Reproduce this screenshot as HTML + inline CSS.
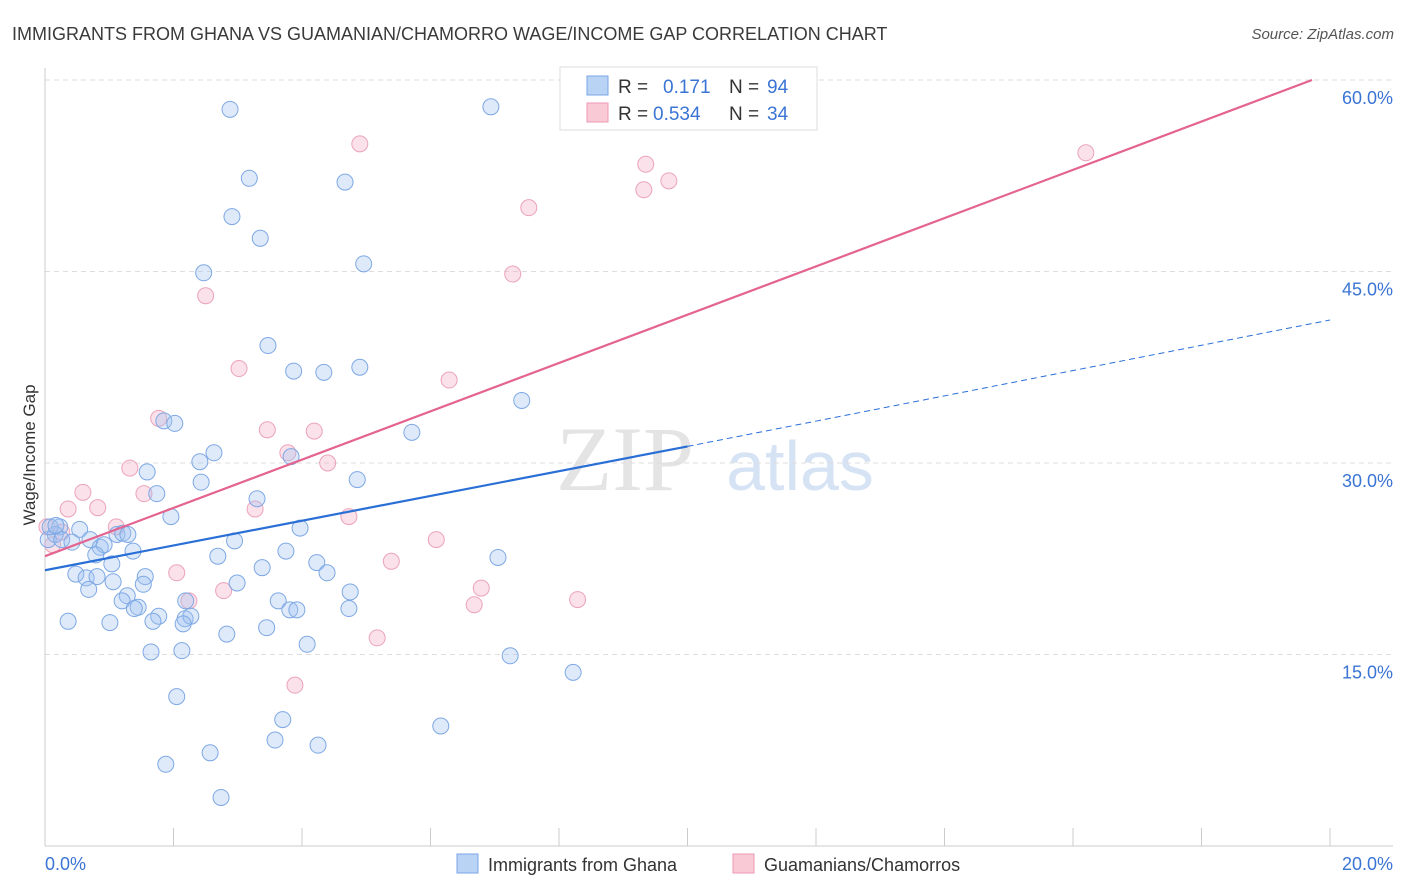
<!DOCTYPE html>
<html><head><meta charset="utf-8"><style>
body{margin:0;background:#fff;font-family:"Liberation Sans",sans-serif;}
svg{display:block}
</style></head><body>
<svg id="chart" width="1406" height="892" xmlns="http://www.w3.org/2000/svg">
<text x="12" y="40" font-size="18" fill="#3a3a3a">IMMIGRANTS FROM GHANA VS GUAMANIAN/CHAMORRO WAGE/INCOME GAP CORRELATION CHART</text>
<text x="1394" y="39" font-size="15" fill="#555" font-style="italic" text-anchor="end">Source: ZipAtlas.com</text>
<text x="35" y="455" font-size="17" fill="#333" text-anchor="middle" transform="rotate(-90 35 455)">Wage/Income Gap</text>
<g>
<text x="625" y="490" font-size="92" fill="#e4e4e4" font-family="Liberation Serif,serif" text-anchor="middle">ZIP</text>
<text x="800" y="490" font-size="70" fill="#d6e3f5" text-anchor="middle">atlas</text>
</g>
<g id="grid"></g>
<g id="axes"></g>
<g id="pts"></g>
<g id="lines"></g>
<g>
<rect x="560" y="67" width="257" height="63" fill="#fff" stroke="#ddd"/>
<rect x="587" y="76" width="21" height="19" fill="#b9d3f5" stroke="#7aa6e6"/>
<rect x="587" y="103" width="21" height="19" fill="#f9c9d6" stroke="#eb99b2"/>
<text x="618" y="93" font-size="19" fill="#333">R =</text>
<text x="663" y="93" font-size="19" fill="#3a74d4">0.171</text>
<text x="729" y="93" font-size="19" fill="#333">N =</text>
<text x="767" y="93" font-size="19" fill="#3a74d4">94</text>
<text x="618" y="120" font-size="19" fill="#333">R =</text>
<text x="653" y="120" font-size="19" fill="#3a74d4">0.534</text>
<text x="729" y="120" font-size="19" fill="#333">N =</text>
<text x="767" y="120" font-size="19" fill="#3a74d4">34</text>
</g>
<g>
<rect x="457" y="854" width="21" height="19" fill="#b9d3f5" stroke="#7aa6e6"/>
<text x="488" y="871" font-size="18" fill="#333">Immigrants from Ghana</text>
<rect x="733" y="854" width="21" height="19" fill="#f9c9d6" stroke="#eb99b2"/>
<text x="764" y="871" font-size="18" fill="#333">Guamanians/Chamorros</text>
</g>
</svg>
<script>
const yTicks=[15,30,45,60];
const xTickLabels=["0.0%","20.0%"];
const bluePts=[[2.88,57.7],[6.94,57.9],[3.18,52.3],[4.67,52.0],[2.91,49.3],[3.35,47.6],[4.96,45.6],[2.47,44.9],[3.47,39.2],[3.87,37.2],[4.34,37.1],[4.90,37.5],[7.42,34.9],[1.85,33.3],[2.02,33.1],[5.71,32.4],[3.83,30.5],[2.63,30.8],[2.41,30.1],[1.59,29.3],[4.86,28.7],[2.43,28.5],[1.74,27.6],[3.30,27.2],[1.96,25.8],[3.97,24.9],[0.23,25.0],[0.54,24.8],[0.16,24.4],[0.05,24.0],[0.26,24.0],[0.42,23.8],[0.70,24.0],[0.86,23.4],[0.92,23.6],[1.12,24.4],[1.21,24.5],[1.29,24.4],[1.37,23.1],[0.79,22.8],[2.95,23.9],[2.69,22.7],[3.75,23.1],[4.23,22.2],[3.38,21.8],[7.05,22.6],[0.48,21.3],[0.64,21.0],[0.81,21.1],[1.56,21.1],[1.06,20.7],[0.68,20.1],[1.53,20.5],[2.99,20.6],[4.39,21.4],[4.75,19.9],[1.28,19.6],[1.20,19.2],[1.45,18.7],[1.39,18.6],[3.63,19.2],[3.81,18.5],[3.92,18.5],[4.73,18.6],[1.77,18.0],[1.68,17.6],[2.18,17.8],[2.27,18.0],[2.15,17.4],[0.36,17.6],[1.01,17.5],[2.83,16.6],[3.45,17.1],[4.08,15.8],[1.65,15.2],[2.13,15.3],[7.24,14.9],[8.22,13.6],[2.05,11.7],[3.70,9.9],[6.16,9.4],[2.57,7.3],[3.58,8.3],[4.25,7.9],[1.88,6.4],[2.74,3.8],[0.08,25.0],[0.17,25.1],[1.04,22.1],[2.19,19.2]];
const pinkPts=[[4.90,55.0],[9.35,53.4],[9.71,52.1],[9.32,51.4],[7.53,50.0],[16.20,54.3],[7.28,44.8],[2.50,43.1],[3.02,37.4],[6.29,36.5],[1.77,33.5],[3.46,32.6],[4.19,32.5],[3.78,30.8],[4.40,30.0],[1.32,29.6],[0.59,27.7],[1.54,27.6],[0.36,26.4],[0.82,26.5],[3.27,26.4],[4.73,25.8],[1.11,25.0],[0.26,24.6],[0.03,25.0],[0.12,23.6],[6.09,24.0],[5.39,22.3],[2.05,21.4],[6.79,20.2],[2.78,20.0],[2.24,19.2],[6.68,18.9],[8.29,19.3],[5.17,16.3],[3.89,12.6]];
const blueLine=[[0,21.6],[10,31.3],[20,41.2]];
const pinkLine=[[0,22.7],[19.72,60.0]];
const X=v=>45+v/20*1285, Y=v=>846-v/60*766;
const NS="http://www.w3.org/2000/svg";
function mk(t,a,p){const e=document.createElementNS(NS,t);for(const k in a)e.setAttribute(k,a[k]);p.appendChild(e);return e;}
const grid=document.getElementById('grid'),axes=document.getElementById('axes'),pts=document.getElementById('pts'),lines=document.getElementById('lines');
yTicks.forEach(t=>{
 const g=mk('line',{x1:45,x2:1393,y1:Y(t),y2:Y(t),stroke:'#ddd','stroke-dasharray':'5,4'},grid);
 
 
 const l=mk('text',{x:1393,y:Y(t)+24,'font-size':18,fill:'#3a74d4','text-anchor':'end'},axes);
 l.textContent=t.toFixed(1)+'%';
 
 
});
mk('line',{x1:45,x2:45,y1:68,y2:846,stroke:'#ccc'},axes);
mk('line',{x1:45,x2:1393,y1:846,y2:846,stroke:'#ccc'},axes);
for(let i=0;i<=10;i++){mk('line',{x1:X(i*2),x2:X(i*2),y1:828,y2:846,stroke:'#ccc'},axes);}
xTickLabels.forEach((s,i)=>{const t=mk('text',{x:i?1393:45,y:870,'font-size':18,fill:'#3a74d4','text-anchor':i?'end':'start'},axes);t.textContent=s;
 
 });
pinkPts.forEach(p=>{const c=mk('circle',{cx:X(p[0]),cy:Y(p[1]),r:8,fill:'rgba(244,170,195,0.35)',stroke:'#eba3bb','stroke-width':1},pts);
 
 });
bluePts.forEach(p=>{const c=mk('circle',{cx:X(p[0]),cy:Y(p[1]),r:8,fill:'rgba(160,196,240,0.35)',stroke:'#7ea8e4','stroke-width':1},pts);
 
 });
const pl=mk('line',{x1:X(pinkLine[0][0]),y1:Y(pinkLine[0][1]),x2:X(pinkLine[1][0]),y2:Y(pinkLine[1][1]),stroke:'#e4648f','stroke-width':2.2},lines);


const bl=mk('line',{x1:X(blueLine[0][0]),y1:Y(blueLine[0][1]),x2:X(blueLine[1][0]),y2:Y(blueLine[1][1]),stroke:'#2a6fd6','stroke-width':2.2},lines);


const bd=mk('line',{x1:X(blueLine[1][0]),y1:Y(blueLine[1][1]),x2:X(blueLine[2][0]),y2:Y(blueLine[2][1]),stroke:'#2a6fd6','stroke-width':1,'stroke-dasharray':'6,4'},lines);


</script>
</body></html>
